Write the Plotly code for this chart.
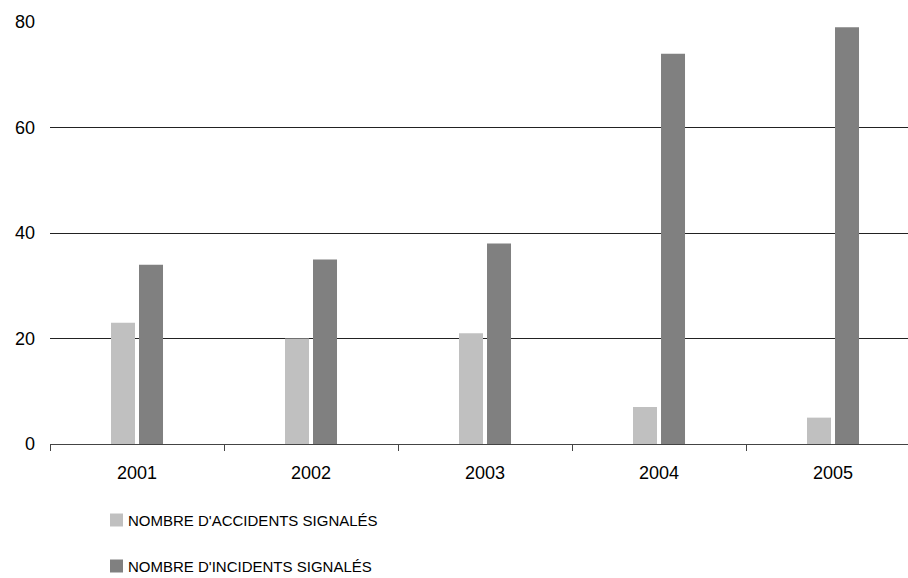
import plotly.graph_objects as go

# Data
years = ["2001", "2002", "2003", "2004", "2005"]
accidents = [23, 20, 21, 7, 5]
incidents = [34, 35, 38, 74, 79]
series_names = ["NOMBRE D'ACCIDENTS SIGNALÉS", "NOMBRE D'INCIDENTS SIGNALÉS"]
series_colors = ["#C0C0C0", "#808080"]
y_ticks = [0, 20, 40, 60, 80]

W, H = 908, 578
ML, MR, MT, MB = 50, 0, 22, 134
plot_w = W - ML - MR
plot_h = H - MT - MB
FONT = "Liberation Sans, Arial, sans-serif"

fig = go.Figure()
for name, vals, col in zip(series_names, [accidents, incidents], series_colors):
    fig.add_trace(go.Bar(x=years, y=vals, name=name, marker=dict(color=col, line=dict(width=0)),
                         showlegend=False))

# Hand-built legend: colour square plus label, stacked below the plot
def px_x(px):
    return (px - ML) / plot_w

def px_y(py):
    return (MT + plot_h - py) / plot_h

legend_rows = [520, 566]
for (name, col, yc) in zip(series_names, series_colors, legend_rows):
    fig.add_shape(type="rect", xref="paper", yref="paper",
                  x0=px_x(110), x1=px_x(123), y0=px_y(yc - 6.5), y1=px_y(yc + 6.5),
                  fillcolor=col, line=dict(width=0))
    fig.add_annotation(xref="paper", yref="paper", x=px_x(126), y=px_y(yc),
                       xanchor="left", yanchor="middle", showarrow=False,
                       text=name, font=dict(family=FONT, size=15, color="#000"))

fig.update_layout(
    width=W, height=H,
    margin=dict(l=ML, r=MR, t=MT, b=MB, pad=0),
    paper_bgcolor="white", plot_bgcolor="white",
    barmode="group", bargap=0.678, bargroupgap=0.143,
    font=dict(family=FONT, size=18, color="#000"),
)
fig.update_xaxes(
    type="category", range=[-0.5, 4.431],
    showline=True, linecolor="#444", linewidth=1,
    ticks="outside", tickson="boundaries", ticklen=6, tickcolor="#444", tickwidth=1,
    showgrid=False, ticklabelstandoff=12,
    tickfont=dict(family=FONT, size=18, color="#000"),
)
fig.update_yaxes(
    range=[0, 80], tickvals=y_ticks,
    showgrid=True, gridcolor="#222", gridwidth=1,
    zeroline=False, showline=False, ticks="",
    ticklabelstandoff=14,
    tickfont=dict(family=FONT, size=18, color="#000"),
)

fig.write_html("out.html")
